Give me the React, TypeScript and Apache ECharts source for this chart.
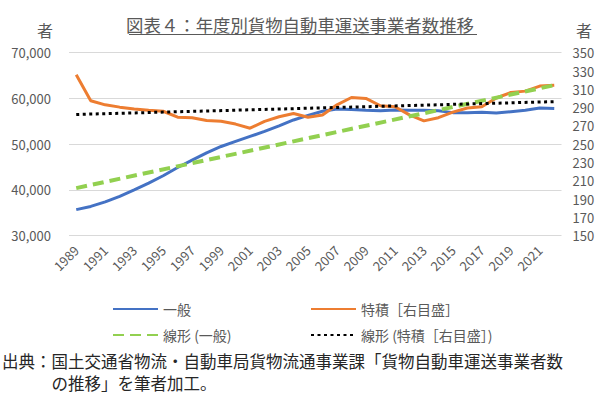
import React, { useEffect, useRef } from "react";
import * as echarts from "echarts";

const years = ["1989","1990","1991","1992","1993","1994","1995","1996","1997","1998","1999","2000","2001","2002","2003","2004","2005","2006","2007","2008","2009","2010","2011","2012","2013","2014","2015","2016","2017","2018","2019","2020","2021","2022"];

const general = [35700,36400,37400,38600,40000,41500,43100,44900,46500,48100,49500,50600,51700,52800,54000,55300,56300,57200,57700,57600,57400,57300,57500,57400,57400,57300,56900,56900,57000,56800,57100,57400,57900,57800];

const special = [326,297.5,293,290.5,288.5,287,286,279.5,279,276,275,272,267.5,275,280,283.5,279.5,282,293,301,300,292,291,282,275.5,279,285,289.5,291,300.5,306.5,308,313.5,314.5];

const trendGeneral = [40400, 62900];
const trendSpecial = [282.5, 296.5];

const leftTicks = [30000, 40000, 50000, 60000, 70000];
const rightTicks = [150,170,190,210,230,250,270,290,310,330,350];

const seriesNames = ["一般", "特積［右目盛］", "線形 (一般)", "線形 (特積［右目盛］)"];

const titleText = "図表４：年度別貨物自動車運送事業者数推移";
const sourceLine1 = "出典：国土交通省物流・自動車局貨物流通事業課「貨物自動車運送事業者数";
const sourceLine2 = "の推移」を筆者加工。";

const FONT = '"Noto Sans CJK JP", "Noto Sans", sans-serif';
const GRAY = "#595959";

export default function App() {
  const ref = useRef<HTMLDivElement>(null);
  useEffect(() => {
    if (!ref.current) return;
    const chart = echarts.init(ref.current, undefined, { renderer: "svg" });
    const legendBase = {
      itemWidth: 45,
      itemHeight: 14,
      selectedMode: false,
      itemStyle: { opacity: 0 },
      textStyle: { color: GRAY, fontSize: 14, fontFamily: FONT },
    };
    const srcStyle = { fontSize: 16.5, lineHeight: 20, fontFamily: FONT, fill: "#262626", textAlign: "left", textVerticalAlign: "middle", align: "left", verticalAlign: "middle" };
    chart.setOption({
      animation: false,
      backgroundColor: "#fff",
      textStyle: { fontFamily: FONT },
      grid: { left: 69, right: 38.5, top: 52.7, bottom: 158.3, containLabel: false },
      xAxis: {
        type: "category",
        data: years,
        boundaryGap: true,
        axisLine: { show: false },
        axisTick: { show: false },
        axisLabel: { interval: 1, rotate: 45, margin: 12, color: GRAY, fontSize: 13, fontFamily: FONT },
      },
      yAxis: [
        {
          type: "value",
          min: leftTicks[0],
          max: leftTicks[leftTicks.length - 1],
          interval: 10000,
          axisLine: { show: false },
          axisTick: { show: false },
          splitLine: { lineStyle: { color: "#D9D9D9", width: 1 } },
          axisLabel: {
            margin: 18,
            color: GRAY,
            fontSize: 13,
            fontFamily: FONT,
            formatter: (v: number) => v.toLocaleString("en-US"),
          },
        },
        {
          type: "value",
          min: rightTicks[0],
          max: rightTicks[rightTicks.length - 1],
          axisLine: { show: false },
          axisTick: { show: false, customValues: rightTicks },
          splitLine: { show: false },
          axisLabel: { customValues: rightTicks, margin: 11, color: GRAY, fontSize: 13, fontFamily: FONT },
        },
      ],
      legend: [
        { ...legendBase, data: [seriesNames[0]], left: 107, top: 297 },
        { ...legendBase, data: [seriesNames[1]], left: 305, top: 297 },
        { ...legendBase, data: [seriesNames[2]], left: 107, top: 323 },
        { ...legendBase, data: [seriesNames[3]], left: 305, top: 323 },
      ],
      series: [
        {
          name: seriesNames[0],
          type: "line",
          yAxisIndex: 0,
          data: general,
          symbol: "none",
          color: "#4472C4",
          lineStyle: { color: "#4472C4", width: 3 },
        },
        {
          name: seriesNames[1],
          type: "line",
          yAxisIndex: 1,
          data: special,
          symbol: "none",
          color: "#ED7D31",
          lineStyle: { color: "#ED7D31", width: 3 },
        },
        {
          name: seriesNames[2],
          type: "line",
          yAxisIndex: 0,
          data: [[years[0], trendGeneral[0]], [years[years.length - 1], trendGeneral[1]]],
          symbol: "none",
          color: "#92D050",
          lineStyle: { color: "#92D050", width: 4, type: [11, 6] },
        },
        {
          name: seriesNames[3],
          type: "line",
          yAxisIndex: 1,
          data: [[years[0], trendSpecial[0]], [years[years.length - 1], trendSpecial[1]]],
          symbol: "none",
          color: "#000000",
          lineStyle: { color: "#000000", width: 3, type: [3, 3.5] },
        },
      ],
      graphic: [
        {
          type: "text",
          x: 300,
          y: 24,
          style: { text: titleText, fontSize: 17.4, fontFamily: FONT, fill: GRAY, textAlign: "center", textVerticalAlign: "middle", align: "center", verticalAlign: "middle" },
        },
        {
          type: "line",
          shape: { x1: 129, y1: 34.5, x2: 477, y2: 34.5 },
          style: { stroke: GRAY, lineWidth: 1 },
        },
        {
          type: "text",
          x: 45,
          y: 30,
          style: { text: "者", fontSize: 16, fontFamily: FONT, fill: GRAY, textAlign: "center", textVerticalAlign: "middle", align: "center", verticalAlign: "middle" },
        },
        {
          type: "text",
          x: 584,
          y: 30,
          style: { text: "者", fontSize: 16, fontFamily: FONT, fill: GRAY, textAlign: "center", textVerticalAlign: "middle", align: "center", verticalAlign: "middle" },
        },
        { type: "text", x: 2, y: 361, style: { ...srcStyle, text: sourceLine1 } },
        { type: "text", x: 51.5, y: 383, style: { ...srcStyle, text: sourceLine2 } },
      ],
    });
    return () => chart.dispose();
  }, []);
  return (
    <div
      ref={ref}
      style={{ position: "fixed", left: 0, top: 0, width: 600, height: 394, background: "#fff" }}
    />
  );
}
